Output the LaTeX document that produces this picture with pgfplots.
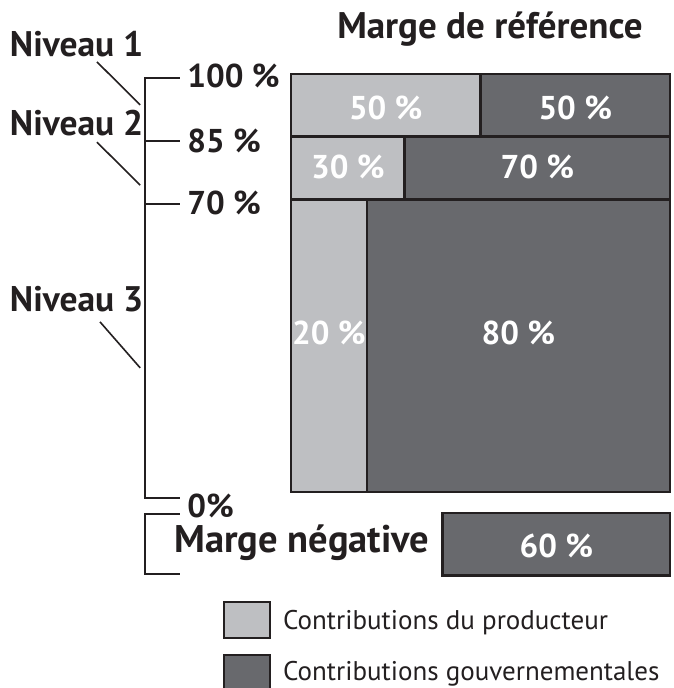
\documentclass[border=0pt]{standalone}
\usepackage{pgfplots}
\pgfplotsset{compat=1.18}
\usepackage{fontspec}
\setmainfont{PT Sans}
\definecolor{lightg}{RGB}{190,191,194}
\definecolor{darkg}{RGB}{104,105,109}
\definecolor{ink}{RGB}{35,31,32}
\begin{document}
\begin{tikzpicture}
\begin{axis}[
  name=ax,
  scale only axis, width=673pt, height=688pt,
  xmin=-76.78, xmax=100.79, ymin=-46.89, ymax=117.70,
  axis lines=none, ticks=none, clip=true,
]
% rows: producer / government
\addplot[fill=lightg, draw=ink, line width=2.5pt] coordinates {(0,85) (50,85) (50,100) (0,100)} -- cycle;
\addplot[fill=darkg, draw=ink, line width=2.5pt] coordinates {(50,85) (100,85) (100,100) (50,100)} -- cycle;
\addplot[fill=lightg, draw=ink, line width=2.5pt] coordinates {(0,70) (30,70) (30,85) (0,85)} -- cycle;
\addplot[fill=darkg, draw=ink, line width=2.5pt] coordinates {(30,70) (100,70) (100,85) (30,85)} -- cycle;
\addplot[fill=lightg, draw=ink, line width=2.5pt] coordinates {(0,0) (20,0) (20,70) (0,70)} -- cycle;
\addplot[fill=darkg, draw=ink, line width=2.5pt] coordinates {(20,0) (100,0) (100,70) (20,70)} -- cycle;
% negative margin
\addplot[fill=darkg, draw=ink, line width=2.5pt] coordinates {(40,-20) (100,-20) (100,-5) (40,-5)} -- cycle;
% legend boxes
\addplot[fill=lightg, draw=ink, line width=2.5pt] coordinates {(-17.7,-34.9) (-5.5,-34.9) (-5.5,-26.3) (-17.7,-26.3)} -- cycle;
\addplot[fill=darkg, draw=ink, line width=2.5pt] coordinates {(-17.7,-48.5) (-5.5,-48.5) (-5.5,-39) (-17.7,-39)} -- cycle;

% inside labels
\begin{scope}[every node/.style={text=white, font=\fontsize{33}{38}\selectfont\bfseries, inner sep=0pt, anchor=base}]
\node at (axis cs:25,89.0) {50 \%};
\node at (axis cs:75,89.0) {50 \%};
\node at (axis cs:15,75.1) {30 \%};
\node at (axis cs:65,75.1) {70 \%};
\node at (axis cs:10,35.4) {20 \%};
\node at (axis cs:60,35.4) {80 \%};
\node at (axis cs:70,-15.6) {60 \%};
\end{scope}

% bracket
\draw[ink, line width=2pt] (axis cs:-29.3,99) -- (axis cs:-38.5,99) -- (axis cs:-38.5,-1.5) -- (axis cs:-29.3,-1.5);
\draw[ink, line width=2pt] (axis cs:-38.5,84) -- (axis cs:-29.3,84);
\draw[ink, line width=2pt] (axis cs:-38.5,69) -- (axis cs:-29.3,69);
\draw[ink, line width=2pt] (axis cs:-29.3,-5.3) -- (axis cs:-38.5,-5.3) -- (axis cs:-38.5,-19.7) -- (axis cs:-29.3,-19.7);
% diagonals
\draw[ink, line width=1.6pt] (axis cs:-51.2,102.9) -- (axis cs:-39.8,92.6);
\draw[ink, line width=1.6pt] (axis cs:-51.2,83.7) -- (axis cs:-39.8,73.4);
\draw[ink, line width=1.6pt] (axis cs:-50.4,40.7) -- (axis cs:-39.8,29.7);

\begin{scope}[every node/.style={text=ink, font=\fontsize{33}{38}\selectfont\bfseries, inner sep=0pt, anchor=base west}]
\node at (axis cs:-27.4,96.7) {100 \%};
\node at (axis cs:-27.4,81.1) {85 \%};
\node at (axis cs:-27.4,66.3) {70 \%};
\node at (axis cs:-27.4,-6.0) {0\%};
\node[font=\fontsize{35.5}{40}\selectfont\bfseries] at (axis cs:-74.2,104.1) {Niveau 1};
\node[font=\fontsize{35.5}{40}\selectfont\bfseries] at (axis cs:-74.2,85.4) {Niveau 2};
\node[font=\fontsize{35.5}{40}\selectfont\bfseries] at (axis cs:-74.2,43.1) {Niveau 3};
\node[anchor=base, font=\fontsize{38.5}{44}\selectfont\bfseries] at (axis cs:2.9,-14.4) {Marge négative};
\node[anchor=base, font=\fontsize{37}{42}\selectfont\bfseries] at (axis cs:52.5,108.6) {Marge de référence};
\end{scope}
\begin{scope}[every node/.style={text=ink, font=\fontsize{27}{32}\selectfont, inner sep=0pt, anchor=base west}]
\node at (axis cs:-2.1,-32.8) {Contributions du producteur};
\node at (axis cs:-2.1,-45.0) {Contributions gouvernementales};
\end{scope}
\end{axis}
\pgfresetboundingbox
\useasboundingbox (ax.south west) rectangle (ax.north east);
\end{tikzpicture}
\end{document}
